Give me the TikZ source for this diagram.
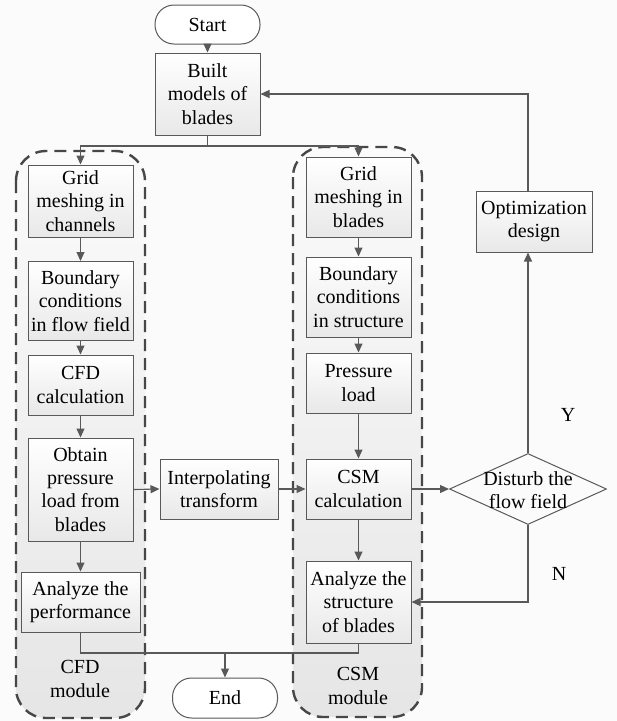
\documentclass[tikz,border=0pt]{standalone}
\usepackage{fontspec}
\setmainfont{Liberation Serif}
\usetikzlibrary{shapes.geometric,arrows.meta,shadings,calc}
\definecolor{ln}{HTML}{595959}
\definecolor{dsh}{HTML}{474747}
\definecolor{bg}{HTML}{FBFBFB}
\newcommand\fsz{\fontsize{20}{23.3}\selectfont}
\begin{document}
\begin{tikzpicture}[x=1pt,y=-1pt,
  box/.style={draw=ln, line width=1pt, top color=white, bottom color=black!9,
    inner sep=0pt, align=center, font=\fsz},
  term/.style={box, rounded corners=19pt, top color=white, bottom color=white},
  module/.style={draw=dsh, line width=2.4pt, dash pattern=on 12pt off 7pt,
    rounded corners=30pt, top color=bg, bottom color=black!10},
  arr/.style={draw=ln, line width=1.1pt, -{Triangle[length=9pt,width=8pt]}},
  con/.style={draw=ln, line width=1.1pt},
  lbl/.style={font=\fsz, align=center, inner sep=0pt}]
\useasboundingbox[fill=bg] (0,0) rectangle (617,721);

% module regions
\path[module] (16,151) rectangle (145,718);
\path[module] (293,147) rectangle (422,717);

% nodes
\node[term, minimum width=105pt, minimum height=39pt] (start) at (207.5,24.5) {Start};
\node[box, minimum width=105pt, minimum height=82pt] (built) at (207.5,94) {Built\\models of\\blades};

\node[box, minimum width=105pt, minimum height=72pt] (gc) at (80.5,201) {Grid\\meshing in\\channels};
\node[box, minimum width=105pt, minimum height=79pt] (bc) at (80.5,301) {Boundary\\conditions\\in flow field};
\node[box, minimum width=105pt, minimum height=60pt] (cfd) at (80.5,385) {CFD\\calculation};
\node[box, minimum width=105pt, minimum height=103pt] (obt) at (80.5,489.5) {Obtain\\pressure\\load from\\blades};
\node[box, minimum width=119pt, minimum height=60pt] (ap) at (80.5,602) {Analyze the\\performance};

\node[box, minimum width=105pt, minimum height=80pt] (gb) at (358.5,197) {Grid\\meshing in\\blades};
\node[box, minimum width=105pt, minimum height=80pt] (bs) at (358.5,297) {Boundary\\conditions\\in structure};
\node[box, minimum width=105pt, minimum height=60pt] (pl) at (358.5,383) {Pressure\\load};
\node[box, minimum width=105pt, minimum height=60pt] (csm) at (358.5,489) {CSM\\calculation};
\node[box, minimum width=105pt, minimum height=82pt] (as) at (358.5,602) {Analyze the\\structure\\of blades};

\node[box, minimum width=118pt, minimum height=60pt] (interp) at (219,489) {Interpolating\\transform};
\node[box, minimum width=116pt, minimum height=61pt] (opt) at (534,221.5) {Optimization\\design};

\node[draw=ln, line width=1pt, shape=diamond, minimum width=157pt, minimum height=71pt, inner sep=0pt] (dia) at (528,489) {};
\node[lbl] (diat) at (528,490) {Disturb the\\flow field};

\node[term, minimum width=105pt, minimum height=40pt] (end) at (225,698) {End};

\node[lbl] (cfdm) at (80,679) {CFD\\module};
\node[lbl] (csmm) at (358,686) {CSM\\module};
\node[lbl] (ylab) at (568,415) {Y};
\node[lbl] (nlab) at (559,574) {N};

% connectors
\draw[arr] (start) -- (built);
\coordinate (sp) at (207.5,146);
\draw[con] (built.south) -- (sp);
\draw[arr] (sp) -| (gc.north);
\draw[arr] (sp) -| (gb.north);

\draw[arr] (gc) -- (bc);
\draw[arr] (bc) -- (cfd);
\draw[arr] (cfd) -- (obt);
\draw[arr] (obt) -- (ap);

\draw[arr] (gb) -- (bs);
\draw[arr] (bs) -- (pl);
\draw[arr] (pl) -- (csm);
\draw[arr] (csm) -- (as);

\draw[arr] (obt.east) -- (interp.west);
\draw[arr] (interp.east) -- (csm.west);
\draw[arr] (csm.east) -- (dia.west);
\draw[arr] (dia.north) -- (dia.north |- opt.south);
\draw[arr] (dia.north |- opt.north) |- (built.east);
\draw[arr] (dia.south) |- (as.east);

\coordinate (jn) at (225,653);
\draw[con] (ap.south) |- (jn);
\draw[con] (as.south) |- (jn);
\draw[arr] (jn) -- (end.north);
\end{tikzpicture}
\end{document}
